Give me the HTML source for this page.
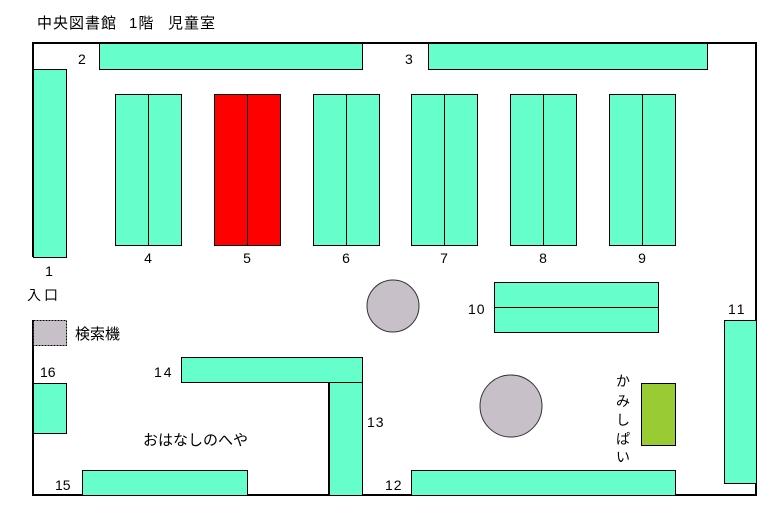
<!DOCTYPE html>
<html><head><meta charset="utf-8"><style>
body{margin:0;background:#fff}
svg text{font-family:"Liberation Sans","Noto Sans CJK JP",sans-serif;font-size:14px;fill:#000}
</style></head><body>
<svg width="774" height="509" xmlns="http://www.w3.org/2000/svg">
<g stroke="#000" stroke-width="2" fill="none">
<polyline points="33,257 33,43 756,43 756,495 33,495 33,320"/>
</g>
<g fill="#66ffcc" stroke="#000" stroke-width="1">
<rect x="33.5" y="69.5" width="33" height="188"/>
<rect x="99.5" y="43.5" width="263" height="26"/>
<rect x="428.5" y="43.5" width="279" height="26"/>
<rect x="115.5" y="94.5" width="66" height="151"/>
<rect x="214.5" y="94.5" width="66" height="151" fill="#ff0000"/>
<rect x="313.5" y="94.5" width="66" height="151"/>
<rect x="411.5" y="94.5" width="66" height="151"/>
<rect x="510.5" y="94.5" width="66" height="151"/>
<rect x="609.5" y="94.5" width="66" height="151"/>
<rect x="494.5" y="282.5" width="164" height="50"/>
<rect x="724.5" y="320.5" width="32" height="163"/>
<rect x="33.5" y="383.5" width="33" height="50"/>
<rect x="181.5" y="357.5" width="181" height="25"/>
<rect x="329.5" y="382.5" width="33" height="113"/>
<rect x="82.5" y="470.5" width="165" height="25"/>
<rect x="411.5" y="470.5" width="264" height="25"/>
<rect x="641.5" y="383.5" width="34" height="62" fill="#99cc33"/>
</g>
<g stroke="#000" stroke-width="1">
<line x1="148.5" y1="94" x2="148.5" y2="245"/>
<line x1="247.5" y1="94" x2="247.5" y2="245"/>
<line x1="346.5" y1="94" x2="346.5" y2="245"/>
<line x1="444.5" y1="94" x2="444.5" y2="245"/>
<line x1="543.5" y1="94" x2="543.5" y2="245"/>
<line x1="642.5" y1="94" x2="642.5" y2="245"/>
<line x1="494" y1="307.5" x2="658" y2="307.5"/>
<line x1="329" y1="382" x2="329" y2="495" stroke-width="2"/>
</g>
<rect x="33.5" y="320.5" width="33" height="25" fill="#c8c0c8" stroke="#000" stroke-dasharray="2,1"/>
<circle cx="393" cy="306" r="26" fill="#c8c0c8" stroke="#333"/>
<circle cx="511" cy="406" r="31" fill="#c8c0c8" stroke="#333"/>
<text x="37" y="28" style="font-size:15px" letter-spacing="1">中央図書館</text>
<text x="129" y="28" style="font-size:15px" letter-spacing="1">1階</text>
<text x="168" y="28" style="font-size:15px" letter-spacing="1">児童室</text>
<text x="78" y="64">2</text>
<text x="405" y="64">3</text>
<text x="148" y="263" text-anchor="middle">4</text>
<text x="247" y="263" text-anchor="middle">5</text>
<text x="346" y="263" text-anchor="middle">6</text>
<text x="444" y="263" text-anchor="middle">7</text>
<text x="543" y="263" text-anchor="middle">8</text>
<text x="642" y="263" text-anchor="middle">9</text>
<text x="49" y="276" text-anchor="middle">1</text>
<text x="27" y="300" letter-spacing="3">入口</text>
<text x="75" y="339" style="font-size:15px">検索機</text>
<text x="468" y="314" letter-spacing="1">10</text>
<text x="728" y="314" letter-spacing="2">11</text>
<text x="40" y="377">16</text>
<text x="154" y="377" letter-spacing="2">14</text>
<text x="367" y="427" letter-spacing="1">13</text>
<text x="55" y="490">15</text>
<text x="385" y="490" letter-spacing="1">12</text>
<text x="143" y="445" style="font-size:15px">おはなしのへや</text>
<text x="616" y="386">か</text>
<text x="616" y="406">み</text>
<text x="616" y="425">し</text>
<text x="616" y="444">ぱ</text>
<text x="616" y="462">い</text>
</svg>
</body></html>
